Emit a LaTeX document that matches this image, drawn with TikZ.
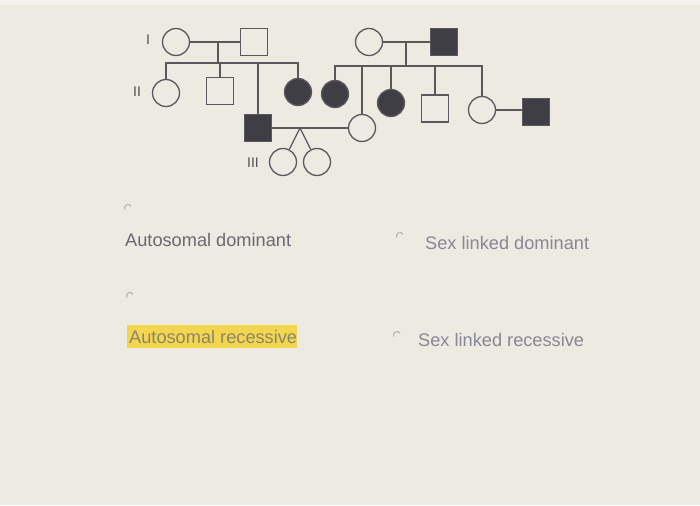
\documentclass[tikz,border=0pt]{standalone}
\usepackage{fontspec}
\setmainfont{Liberation Sans}
\definecolor{bgC}{RGB}{237,234,225}
\definecolor{bgT}{RGB}{243,241,236}
\definecolor{lineC}{RGB}{88,88,94}
\definecolor{fillC}{RGB}{62,62,68}
\definecolor{genC}{RGB}{80,80,86}
\definecolor{txtA}{RGB}{105,105,115}
\definecolor{txtB}{RGB}{135,135,150}
\definecolor{txtH}{RGB}{140,132,110}
\definecolor{hiC}{RGB}{242,214,78}
\definecolor{radioC}{RGB}{160,160,165}
\begin{document}
\begin{tikzpicture}[x=1pt,y=-1pt,
 ln/.style={draw=lineC, line width=1.3pt},
 fem/.style={circle, draw=lineC, line width=1.3pt, minimum size=27pt, inner sep=0pt},
 mal/.style={rectangle, draw=lineC, line width=1.3pt, minimum size=27pt, inner sep=0pt},
 aff/.style={fill=fillC},
 gen/.style={text=genC, font=\fontsize{14}{14}\selectfont, inner sep=0pt},
 ans/.style={font=\fontsize{18.2}{18.2}\selectfont, inner sep=0pt, anchor=west},
 radio/.style={draw=radioC, line width=0.8pt},
]
\fill[bgC] (0,0) rectangle (700,505);
\fill[bgT] (0,0) rectangle (700,5);
\useasboundingbox (0,0) rectangle (700,505);

% generation labels
\node[gen] (gI) at (148,40) {I};
\node[gen] (gII) at (137,92) {II};
\node[gen] (gIII) at (253,163) {III};

% generation I
\node[fem] (c11) at (176,42) {};
\node[mal] (s12) at (254,42) {};
\node[fem] (c13) at (369,42) {};
\node[mal,aff] (s14) at (444,42) {};

% generation II
\node[fem] (c21) at (166,93) {};
\node[mal] (s22) at (220,91) {};
\node[mal,aff] (s23) at (258,128) {};
\node[fem,aff] (c24) at (298,92) {};
\node[fem,aff] (c25) at (335,94) {};
\node[fem] (c26) at (362,128) {};
\node[fem,aff] (c27) at (391,103) {};
\node[mal] (s28) at (435,108.5) {};
\node[fem] (c29) at (482,110) {};
\node[mal,aff] (s210) at (536,112) {};

% generation III
\node[fem] (c31) at (283,162) {};
\node[fem] (c32) at (317,162) {};

% coordinates
\coordinate (m1) at (218,42);
\coordinate (sb1) at (218,63);
\coordinate (m2) at (406,42);
\coordinate (sb2) at (406,66);
\coordinate (tw) at (300,128);

% family 1
\draw[ln] (c11.east) -- (s12.west);
\draw[ln] (m1) -- (sb1);
\draw[ln] (c21.north) |- (sb1) -| (c24.north);
\draw[ln] (s22.north) -- (s22.north |- sb1);
\draw[ln] (s23.north) -- (s23.north |- sb1);

% family 2
\draw[ln] (c13.east) -- (s14.west);
\draw[ln] (m2) -- (sb2);
\draw[ln] (c25.north) |- (sb2) -| (c29.north);
\draw[ln] (c26.north) -- (c26.north |- sb2);
\draw[ln] (c27.north) -- (c27.north |- sb2);
\draw[ln] (s28.north) -- (s28.north |- sb2);
\draw[ln] (c29.east) -- (c29.east -| s210.west);

% marriage II-3 x II-6 and twins
\draw[ln] (s23.east) -- (c26.west);
\draw[ln] (tw) -- (c31);
\draw[ln] (tw) -- (c32);

% radio buttons
\draw[radio] (128,208) ++(330:3.5) arc[start angle=330, end angle=150, radius=3.5];
\draw[radio] (400,236) ++(330:3.5) arc[start angle=330, end angle=150, radius=3.5];
\draw[radio] (130,296) ++(330:3.5) arc[start angle=330, end angle=150, radius=3.5];
\draw[radio] (397,335) ++(330:3.5) arc[start angle=330, end angle=150, radius=3.5];

% answers
\fill[hiC] (127,325) rectangle (297,348);
\node[ans, text=txtA] (a1) at (125,240) {Autosomal dominant};
\node[ans, text=txtB] (a2) at (425,243) {Sex linked dominant};
\node[ans, text=txtH] (a3) at (129,337) {Autosomal recessive};
\node[ans, text=txtB] (a4) at (418,340) {Sex linked recessive};
\end{tikzpicture}
\end{document}
